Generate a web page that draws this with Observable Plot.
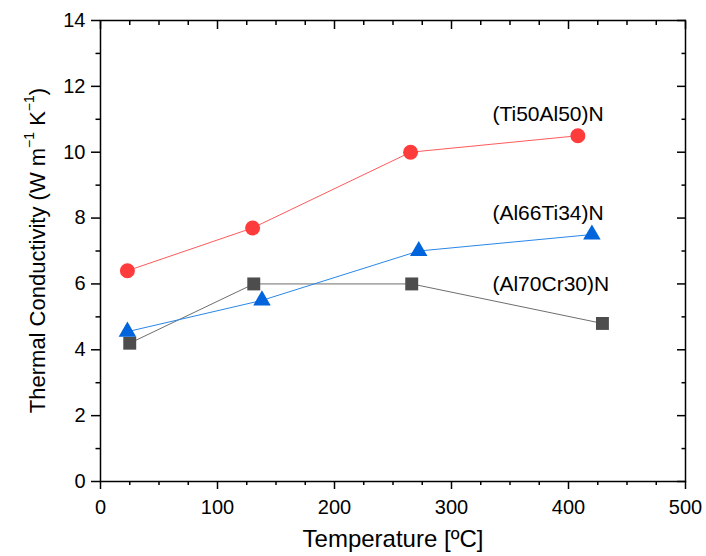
<!DOCTYPE html>
<html>
<head>
<meta charset="utf-8">
<script src="https://cdn.jsdelivr.net/npm/d3@7"></script>
<script src="https://cdn.jsdelivr.net/npm/@observablehq/plot@0.6"></script>
<style>
  html, body { margin: 0; padding: 0; background: #fff; }
  #chart svg { font-family: Arial, "Liberation Sans", sans-serif; }
</style>
</head>
<body>
<div id="chart"></div>
<script>
// Thermal conductivity of nitride coatings vs. temperature
const tempTiAl = [23, 130, 265, 408];
const kappaTiAl = [6.4, 7.7, 10.0, 10.5];

const tempAlTi = [23, 138, 272, 420];
const kappaAlTi = [4.55, 5.5, 7.0, 7.5];

const tempAlCr = [25, 131, 266, 429];
const kappaAlCr = [4.2, 6.0, 6.0, 4.8];

const seriesNames = ["(Ti50Al50)N", "(Al66Ti34)N", "(Al70Cr30)N"];
const labelX = [335, 335, 335];
const labelY = [11.15, 8.15, 6.0];

const xTitle = "Temperature [ºC]";
const yTitleParts = [["Thermal Conductivity (W m", false], ["−1", true], [" K", false], ["−1", true], [")", false]];

const xMajor = [0, 100, 200, 300, 400, 500];
const xMinor = [25, 50, 75, 125, 150, 175, 225, 250, 275, 325, 350, 375, 425, 450, 475];
const yMajor = [0, 2, 4, 6, 8, 10, 12, 14];
const yMinor = [1, 3, 5, 7, 9, 11, 13];

const toRows = (xs, ys, name) => xs.map((x, i) => ({x, y: ys[i], name}));
const tiAl = toRows(tempTiAl, kappaTiAl, seriesNames[0]);
const alTi = toRows(tempAlTi, kappaAlTi, seriesNames[1]);
const alCr = toRows(tempAlCr, kappaAlCr, seriesNames[2]);
const labels = seriesNames.map((name, i) => ({name, x: labelX[i], y: labelY[i]}));

const blank = () => "";

const chart = Plot.plot({
  width: 706,
  height: 556,
  marginLeft: 100,
  marginRight: 21,
  marginTop: 20,
  marginBottom: 75,
  style: {fontSize: "20px", fontFamily: "Arial, 'Liberation Sans', sans-serif", color: "#000", background: "#fff"},
  x: {domain: [0, 500]},
  y: {domain: [0, 14]},
  marks: [
    // bottom axis: labelled major ticks pointing out, shorter minor ticks
    Plot.axisX({anchor: "bottom", ticks: xMajor, tickSize: 8, tickPadding: 10, strokeWidth: 1.5, label: null, tickFormat: d3.format("d")}),
    Plot.axisX({anchor: "bottom", ticks: xMinor, tickSize: 4, strokeWidth: 1.5, label: null, tickFormat: blank}),
    // top axis: mirrored ticks pointing inward
    Plot.axisX({anchor: "top", ticks: xMajor, tickSize: 8, dy: 8, strokeWidth: 1.5, label: null, tickFormat: blank}),
    Plot.axisX({anchor: "top", ticks: xMinor, tickSize: 4, dy: 4, strokeWidth: 1.5, label: null, tickFormat: blank}),
    // left axis
    Plot.axisY({anchor: "left", ticks: yMajor, tickSize: 9, tickPadding: 6, strokeWidth: 1.5, label: null, tickFormat: d3.format("d")}),
    Plot.axisY({anchor: "left", ticks: yMinor, tickSize: 4.5, strokeWidth: 1.5, label: null, tickFormat: blank}),
    // right axis: mirrored ticks pointing inward
    Plot.axisY({anchor: "right", ticks: yMajor, tickSize: 9, dx: -9, strokeWidth: 1.5, label: null, tickFormat: blank}),
    Plot.axisY({anchor: "right", ticks: yMinor, tickSize: 4.5, dx: -4.5, strokeWidth: 1.5, label: null, tickFormat: blank}),
    Plot.frame({stroke: "#000", strokeWidth: 1.5}),

    // x-axis title centred under the frame
    Plot.text([xTitle], {frameAnchor: "bottom", dy: 65, fontSize: 24, fill: "#000"}),

    Plot.line(alCr, {x: "x", y: "y", stroke: "#6e6e6e", strokeWidth: 1}),
    Plot.line(alTi, {x: "x", y: "y", stroke: "#2a86e8", strokeWidth: 1}),
    Plot.line(tiAl, {x: "x", y: "y", stroke: "#ff5a5a", strokeWidth: 1}),

    Plot.dot(alCr, {x: "x", y: "y", symbol: "square", r: 7.3, fill: "#4d4d4d", stroke: "none"}),
    Plot.dot(alTi, {x: "x", y: "y", symbol: "triangle", r: 6.5, fill: "#0064dc", stroke: "none"}),
    Plot.dot(tiAl, {x: "x", y: "y", symbol: "circle", r: 7.5, fill: "#ff3c3c", stroke: "none"}),

    Plot.text(labels, {x: "x", y: "y", text: "name", textAnchor: "start", fontSize: 21, fill: "#000"})
  ]
});

// y-axis title with real superscripts, centred on the frame's vertical span
const yRange = chart.scale("y").range;
const yMid = (yRange[0] + yRange[1]) / 2;
const yTitle = d3.select(chart).append("text")
  .attr("transform", `translate(37,${yMid}) rotate(-90)`)
  .attr("text-anchor", "middle")
  .attr("dominant-baseline", "central")
  .attr("font-size", 22)
  .attr("fill", "#000");
yTitleParts.forEach(([t, sup]) => {
  const span = yTitle.append("tspan").text(t);
  if (sup) span.attr("font-size", 14).attr("baseline-shift", "8");
});

document.getElementById("chart").appendChild(chart);
</script>
</body>
</html>
